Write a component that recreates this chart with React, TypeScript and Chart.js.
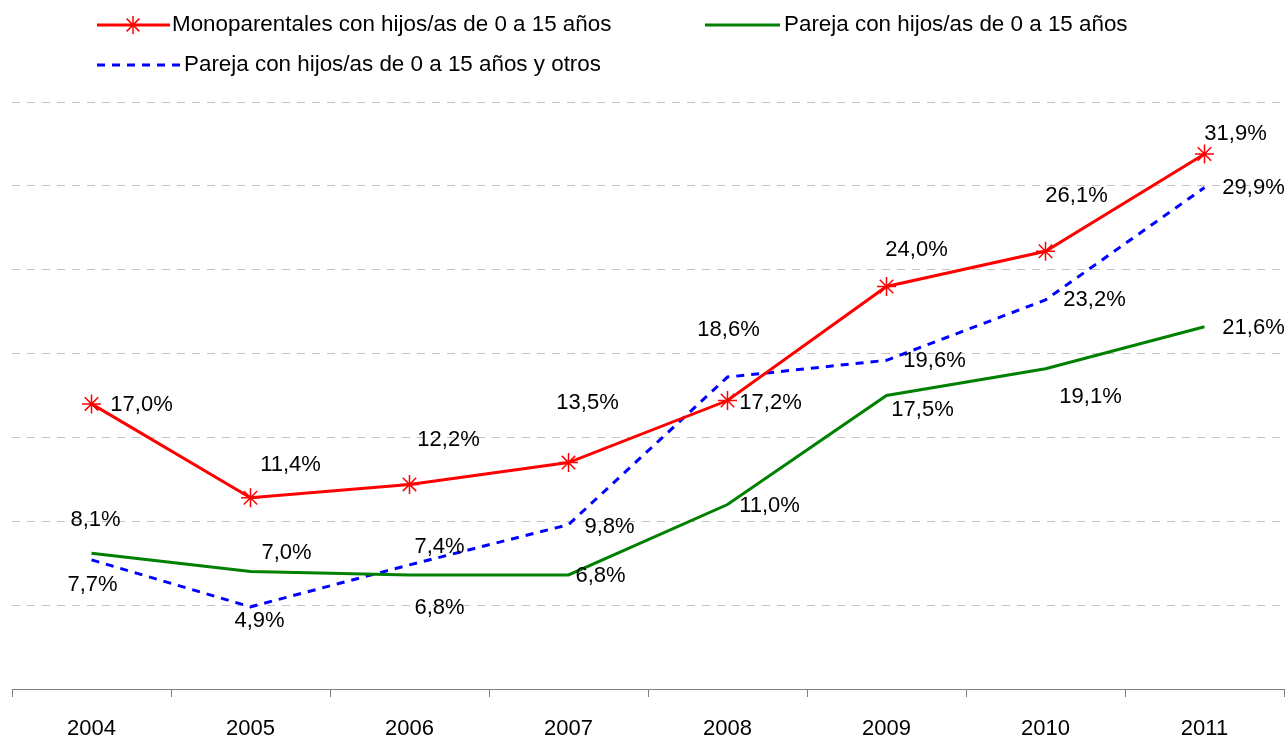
import React, { useEffect, useRef } from 'react';
import { Chart, registerables } from 'chart.js';

Chart.register(...registerables);

const years = ['2004', '2005', '2006', '2007', '2008', '2009', '2010', '2011'];
const monoparentales = [17.0, 11.4, 12.2, 13.5, 17.2, 24.0, 26.1, 31.9];
const pareja = [8.1, 7.0, 6.8, 6.8, 11.0, 17.5, 19.1, 21.6];
const parejaOtros = [7.7, 4.9, 7.4, 9.8, 18.6, 19.6, 23.2, 29.9];
const seriesNames = [
  'Monoparentales con hijos/as de 0 a 15 años',
  'Pareja con hijos/as de 0 a 15 años',
  'Pareja con hijos/as de 0 a 15 años y otros',
];
const yMin = 0;
const yMax = 35;
const yStep = 5;

// label placement offsets (dx, dy) relative to each point
const monoOffsets = [[50, 1], [40, -33], [39, -44], [19, -60], [43, 2], [30, -37], [31, -55], [31, -20]];
const parejaOffsets = [[4, -33], [36, -19], [30, 33], [32, 1], [42, 1], [36, 14], [45, 28], [49, 1]];
const otrosOffsets = [[1, 25], [9, 14], [30, -18], [41, 2], [1, -47], [48, 1], [49, 0], [49, 0]];

const FONT = "'Liberation Sans', Arial, sans-serif";
const RED = '#ff0000';
const GREEN = '#008000';
const BLUE = '#0000ff';

function fmt(v: number) {
  return v.toFixed(1).replace('.', ',') + '%';
}

function drawStar(ctx: CanvasRenderingContext2D, x: number, y: number, r: number, color: string) {
  ctx.save();
  ctx.strokeStyle = color;
  ctx.lineWidth = 1.5;
  ctx.setLineDash([]);
  ctx.beginPath();
  ctx.moveTo(x, y - r);
  ctx.lineTo(x, y + r);
  const d = r * Math.SQRT1_2;
  ctx.moveTo(x - d, y - d);
  ctx.lineTo(x + d, y + d);
  ctx.moveTo(x - d, y + d);
  ctx.lineTo(x + d, y - d);
  ctx.moveTo(x - r, y);
  ctx.lineTo(x + r, y);
  ctx.stroke();
  ctx.restore();
}

const labelPlugin = {
  id: 'pointLabels',
  afterDatasetsDraw(chart: any) {
    const ctx = chart.ctx as CanvasRenderingContext2D;
    ctx.save();
    ctx.font = `22px ${FONT}`;
    ctx.fillStyle = '#000';
    ctx.textAlign = 'center';
    ctx.textBaseline = 'middle';
    chart.data.datasets.forEach((ds: any, i: number) => {
      const meta = chart.getDatasetMeta(i);
      meta.data.forEach((pt: any, j: number) => {
        const off = ds.labelOffsets[j];
        ctx.fillText(fmt(ds.data[j]), pt.x + off[0], pt.y + off[1]);
      });
    });
    ctx.restore();
  },
};

const legendPlugin = {
  id: 'customLegend',
  afterDraw(chart: any) {
    const ctx = chart.ctx as CanvasRenderingContext2D;
    ctx.save();
    ctx.font = `22.4px ${FONT}`;
    ctx.fillStyle = '#000';
    ctx.textAlign = 'left';
    ctx.textBaseline = 'middle';
    ctx.lineWidth = 3;
    // row 1: red
    ctx.strokeStyle = RED;
    ctx.setLineDash([]);
    ctx.beginPath();
    ctx.moveTo(97, 25);
    ctx.lineTo(170, 25);
    ctx.stroke();
    drawStar(ctx, 133, 25, 9, RED);
    ctx.fillText(seriesNames[0], 172, 25);
    // row 1: green
    ctx.lineWidth = 3;
    ctx.strokeStyle = GREEN;
    ctx.beginPath();
    ctx.moveTo(705, 25);
    ctx.lineTo(780, 25);
    ctx.stroke();
    ctx.fillText(seriesNames[1], 784, 25);
    // row 2: blue dashed
    ctx.strokeStyle = BLUE;
    ctx.setLineDash([8, 7]);
    ctx.beginPath();
    ctx.moveTo(97, 65);
    ctx.lineTo(182, 65);
    ctx.stroke();
    ctx.setLineDash([]);
    ctx.fillText(seriesNames[2], 184, 65);
    ctx.restore();
  },
};

export default function App() {
  const ref = useRef<HTMLCanvasElement>(null);

  useEffect(() => {
    if (!ref.current) return;
    const chart = new Chart(ref.current, {
      type: 'line',
      data: {
        labels: years,
        datasets: [
          {
            label: seriesNames[1],
            data: pareja,
            borderColor: GREEN,
            backgroundColor: GREEN,
            borderWidth: 3,
            pointRadius: 0,
            tension: 0,
            labelOffsets: parejaOffsets,
          } as any,
          {
            label: seriesNames[0],
            data: monoparentales,
            borderColor: RED,
            backgroundColor: 'transparent',
            borderWidth: 3,
            pointStyle: 'star',
            pointRadius: 9.5,
            pointBorderWidth: 1.5,
            pointBorderColor: RED,
            tension: 0,
            labelOffsets: monoOffsets,
          } as any,
          {
            label: seriesNames[2],
            data: parejaOtros,
            borderColor: BLUE,
            backgroundColor: BLUE,
            borderWidth: 3,
            borderDash: [8, 7],
            pointRadius: 0,
            tension: 0,
            labelOffsets: otrosOffsets,
          } as any,
        ],
      },
      options: {
        responsive: false,
        animation: false,
        layout: { autoPadding: false, padding: { top: 102, left: 12, right: 1, bottom: 0 } },
        plugins: {
          legend: { display: false },
          tooltip: { enabled: false },
          title: { display: false },
        },
        scales: {
          x: {
            type: 'category',
            offset: true,
            grid: {
              display: true,
              offset: true,
              drawOnChartArea: false,
              drawTicks: true,
              tickLength: 8,
              color: '#808080',
              lineWidth: 1,
            },
            border: { display: true, color: '#808080', width: 1 },
            ticks: {
              color: '#000',
              font: { family: FONT, size: 22 },
              padding: 19,
              maxRotation: 0,
              autoSkip: false,
            },
            afterFit: (s: any) => {
              s.height = 53;
              s.paddingLeft = 0;
              s.paddingRight = 0;
            },
          },
          y: {
            min: yMin,
            max: yMax,
            ticks: { display: false, stepSize: yStep },
            grid: {
              display: true,
              drawTicks: false,
              color: '#c4c4c4',
              lineWidth: 1,
            },
            border: { display: false, dash: [8, 7] },
            afterFit: (s: any) => {
              s.width = 0;
              s.paddingTop = 0;
              s.paddingBottom = 0;
            },
          },
        },
      },
      plugins: [labelPlugin, legendPlugin],
    });
    return () => chart.destroy();
  }, []);

  return (
    <div style={{ position: 'absolute', left: 0, top: 0, width: 1285, height: 742, background: '#fff' }}>
      <canvas ref={ref} width={1285} height={742} style={{ display: 'block' }} />
    </div>
  );
}
